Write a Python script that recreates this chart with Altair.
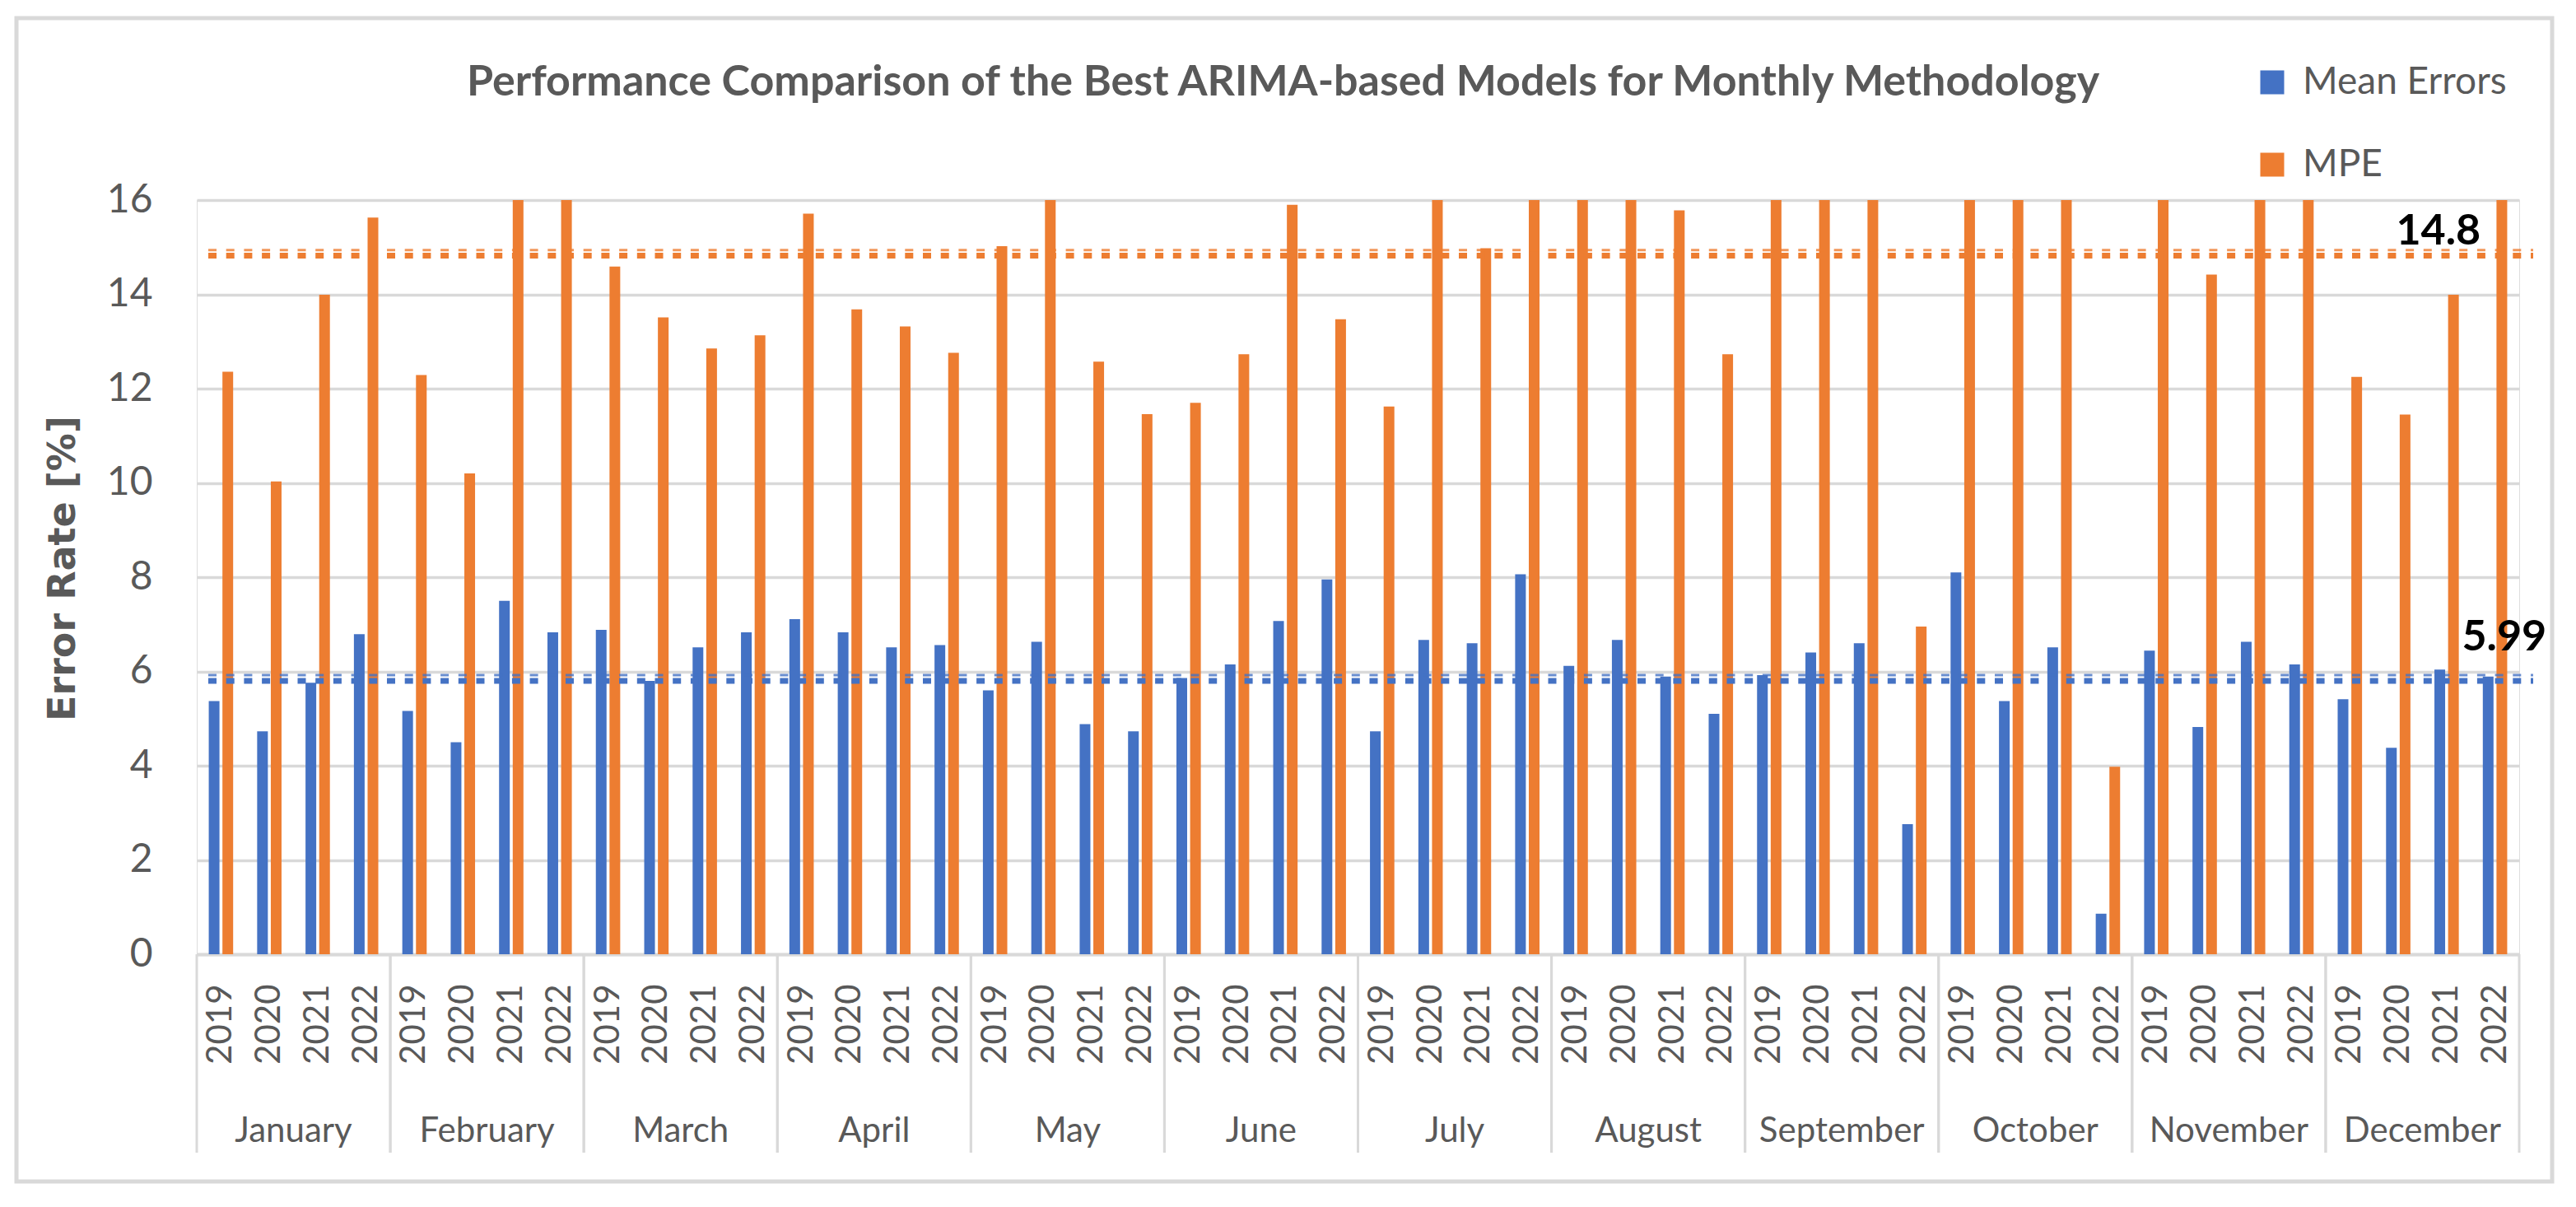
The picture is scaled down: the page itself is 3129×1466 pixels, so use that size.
import altair as alt
import pandas as pd

# ---------------- data ----------------
months = ["January", "February", "March", "April", "May", "June", "July",
          "August", "September", "October", "November", "December"]
years = ["2019", "2020", "2021", "2022"]

mean_errors = [
    5.37, 4.73, 5.76, 6.79,   # January
    5.16, 4.50, 7.50, 6.83,   # February
    6.88, 5.80, 6.51, 6.83,   # March
    7.11, 6.83, 6.51, 6.56,   # April
    5.60, 6.63, 4.88, 4.73,   # May
    5.86, 6.15, 7.07, 7.95,   # June
    4.73, 6.67, 6.60, 8.06,   # July
    6.12, 6.67, 5.89, 5.10,   # August
    5.92, 6.40, 6.60, 2.76,   # September
    8.10, 5.37, 6.51, 0.86,   # October
    6.44, 4.82, 6.63, 6.15,   # November
    5.41, 4.38, 6.04, 5.89,   # December
]
mpe = [
    12.36, 10.03, 13.99, 15.63,
    12.29, 10.20, 16.00, 16.00,
    14.59, 13.51, 12.85, 13.13,
    15.71, 13.68, 13.32, 12.76,
    15.02, 16.00, 12.57, 11.46,
    11.70, 12.73, 15.90, 13.47,
    11.62, 16.00, 14.98, 16.00,
    16.00, 16.00, 15.78, 12.73,
    16.00, 16.00, 16.00, 6.95,
    16.00, 16.00, 16.00, 3.98,
    16.00, 14.42, 16.00, 16.00,
    12.25, 11.45, 13.99, 16.00,
]
series_names = ["Mean Errors", "MPE"]
series_colors = ["#4472C4", "#ED7D31"]

# average reference lines (double dotted line: thin upper, thick lower)
ref_series = ["Mean Errors", "MPE"]
ref_upper = [5.92, 14.94]
ref_lower = [5.80, 14.82]
ref_text = ["5.99", "14.8"]

title_text = "Performance Comparison of the Best ARIMA-based Models for Monthly Methodology"
y_title = "Error Rate [%]"

# ---------------- tables ----------------
keys = [f"{m} {y}" for m in months for y in years]
rows = []
for i, k in enumerate(keys):
    rows.append({"key": k, "series": series_names[0], "value": mean_errors[i]})
    rows.append({"key": k, "series": series_names[1], "value": mpe[i]})
bars_df = pd.DataFrame(rows)

ref_df = pd.DataFrame({"series": ref_series, "upper": ref_upper,
                       "lower": ref_lower, "label": ref_text,
                       "key": [keys[-1]] * 2})
month_df = pd.DataFrame({"month": months,
                         "start": [f"{m} {years[0]}" for m in months],
                         "mid": [f"{m} {years[1]}" for m in months],
                         "end": [f"{m} {years[-1]}" for m in months]})
frame_df = pd.DataFrame({"a": [0]})

W, H = 2821, 916
GRAY = "#595959"
LIGHT = "#D9D9D9"

xscale = alt.Scale(domain=keys, paddingInner=0, paddingOuter=0)
color = alt.Color("series:N",
                  scale=alt.Scale(domain=series_names, range=series_colors),
                  legend=alt.Legend(orient="none", legendX=2498, legendY=-166,
                                    title=None, symbolType="square",
                                    symbolSize=841, symbolStrokeWidth=0,
                                    labelFont="Lato", labelFontSize=46,
                                    labelColor=GRAY, rowPadding=54,
                                    labelOffset=14, labelLimit=400))

bars = alt.Chart(bars_df).mark_bar().encode(
    x=alt.X("key:N", scale=xscale, sort=keys,
            axis=alt.Axis(title=None, labelAngle=270,
                          labelExpr="slice(datum.label, -4)",
                          labelFont="Lato", labelFontSize=42, labelColor=GRAY,
                          labelPadding=36, ticks=False, domainColor=LIGHT,
                          domainWidth=4, grid=False)),
    xOffset=alt.XOffset("series:N",
                        scale=alt.Scale(domain=series_names,
                                        paddingInner=0.217, paddingOuter=0.878)),
    y=alt.Y("value:Q",
            scale=alt.Scale(domain=[0, 16], nice=False),
            axis=alt.Axis(values=list(range(0, 17, 2)), format="d", grid=True,
                          gridColor=LIGHT, gridWidth=3.5, domain=False,
                          ticks=False, labelFont="Lato", labelFontSize=48,
                          labelColor=GRAY, labelPadding=54,
                          title=y_title, titleFont="DejaVu Sans",
                          titleFontSize=46, titleFontWeight="bold",
                          titleColor=GRAY, titleAngle=270, titleX=-163,
                          titleY=447, titleAlign="center",
                          titleBaseline="middle")),
    color=color,
)

ref_color = alt.Color("series:N",
                      scale=alt.Scale(domain=series_names, range=series_colors),
                      legend=None)

ref_thin = alt.Chart(ref_df).mark_rule(strokeWidth=3, strokeDash=[10, 11.7],
                                       opacity=0.8).encode(
    y="upper:Q", x=alt.value(14), x2=alt.value(W + 17), color=ref_color)
ref_thick = alt.Chart(ref_df).mark_rule(strokeWidth=7,
                                        strokeDash=[10, 11.7]).encode(
    y="lower:Q", x=alt.value(14), x2=alt.value(W + 17), color=ref_color)

lab_mpe = alt.Chart(ref_df).transform_filter(
    alt.datum.series == "MPE").mark_text(
    font="Lato", fontSize=52, fontWeight="bold", color="black",
    align="right", baseline="alphabetic", dx=12, dy=-7).encode(
    x=alt.X("key:N", scale=xscale, sort=keys, bandPosition=0),
    y="upper:Q", text="label:N")
lab_me = alt.Chart(ref_df).transform_filter(
    alt.datum.series == "Mean Errors").mark_text(
    font="Lato", fontSize=52, fontWeight="bold", color="black",
    align="right", baseline="alphabetic", dx=92, dy=-30).encode(
    x=alt.X("key:N", scale=xscale, sort=keys, bandPosition=0),
    y="upper:Q", text="label:N")

sep_start = alt.Chart(month_df).mark_rule(color=LIGHT, strokeWidth=3).encode(
    x=alt.X("start:N", scale=xscale, sort=keys, bandPosition=0),
    y=alt.value(H), y2=alt.value(H + 241))
sep_end = alt.Chart(month_df).mark_rule(color=LIGHT, strokeWidth=3).encode(
    x=alt.X("end:N", scale=xscale, sort=keys, bandPosition=1),
    y=alt.value(H), y2=alt.value(H + 241))

month_text = alt.Chart(month_df).mark_text(
    font="Lato", fontSize=42, color=GRAY, align="center",
    baseline="alphabetic").encode(
    x=alt.X("mid:N", scale=xscale, sort=keys, bandPosition=1),
    y=alt.value(H + 228), text="month:N")

frame = alt.Chart(frame_df).mark_rect(fill=None, stroke=LIGHT,
                                      strokeWidth=5).encode(
    x=alt.value(-219), x2=alt.value(W + 40),
    y=alt.value(-221), y2=alt.value(H + 276))

chart = alt.layer(
    frame, bars, ref_thin, ref_thick, lab_mpe, lab_me,
    sep_start, sep_end, month_text
).properties(
    width=W, height=H,
    title=alt.TitleParams(title_text, anchor="start", frame="group", dx=328,
                          dy=148, font="Lato", fontSize=52, fontWeight="bold",
                          color=GRAY, offset=0, baseline="alphabetic"),
    autosize=alt.AutoSizeParams(type="none"),
    padding={"left": 231, "top": 235, "right": 61, "bottom": 297},
).configure_view(stroke=None).configure(background="white")

chart.save("out.html", embed_options={"renderer": "svg", "actions": False})
